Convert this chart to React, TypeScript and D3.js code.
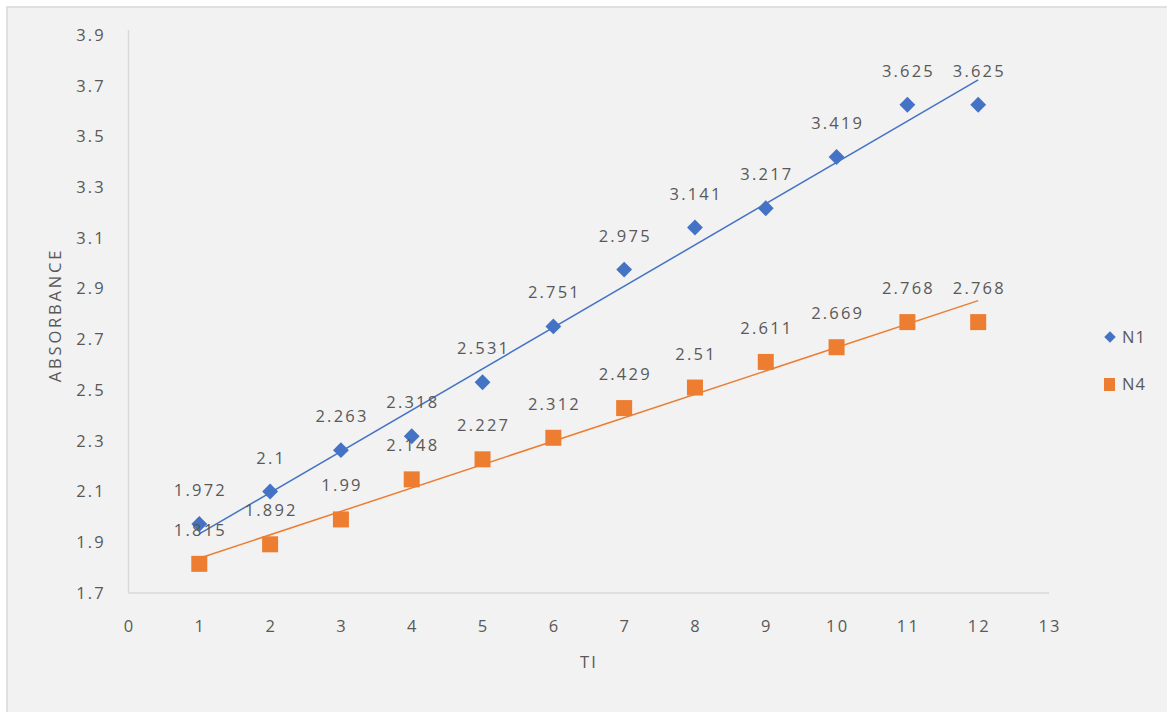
import React from "react";
import * as d3 from "d3";

const tiValues = [1, 2, 3, 4, 5, 6, 7, 8, 9, 10, 11, 12];
const n1Values = [1.972, 2.1, 2.263, 2.318, 2.531, 2.751, 2.975, 3.141, 3.217, 3.419, 3.625, 3.625];
const n4Values = [1.815, 1.892, 1.99, 2.148, 2.227, 2.312, 2.429, 2.51, 2.611, 2.669, 2.768, 2.768];
const xTicks = [0, 1, 2, 3, 4, 5, 6, 7, 8, 9, 10, 11, 12, 13];
const yTicks = [1.7, 1.9, 2.1, 2.3, 2.5, 2.7, 2.9, 3.1, 3.3, 3.5, 3.7, 3.9];
const seriesNames = ["N1", "N4"];

const W = 1167;
const H = 712;
const FONT = "'Open Sans', 'Noto Sans', sans-serif";
const TEXT = "#595959";
const BLUE = "#4472C4";
const ORANGE = "#ED7D31";
const LS = 2.2;

// least-squares linear trend
function linearFit(xs: number[], ys: number[]) {
  const mx = d3.mean(xs) as number;
  const my = d3.mean(ys) as number;
  let sxy = 0;
  let sxx = 0;
  xs.forEach((x, i) => {
    sxy += (x - mx) * (ys[i] - my);
    sxx += (x - mx) * (x - mx);
  });
  const slope = sxy / sxx;
  return (x: number) => my + slope * (x - mx);
}

export default function App() {
  const x = d3.scaleLinear().domain([0, 13]).range([128.5, 1049]);
  const y = d3.scaleLinear().domain([1.7, 3.9]).range([593, 35]);

  const fit1 = linearFit(tiValues, n1Values);
  const fit4 = linearFit(tiValues, n4Values);
  const x0 = tiValues[0];
  const x1 = tiValues[tiValues.length - 1];

  const diamond = d3.symbol().type(d3.symbolDiamond2).size(160)() as string;
  const legendDiamond = d3.symbol().type(d3.symbolDiamond2).size(85)() as string;

  const labelStyle = {
    fontFamily: FONT,
    fontSize: 16.5,
    letterSpacing: LS,
    fill: TEXT,
  } as React.CSSProperties;

  return (
    <svg
      width={W}
      height={H}
      style={{ position: "absolute", left: 0, top: 0, display: "block" }}
    >
      <rect x={0} y={0} width={W} height={H} fill="#ffffff" />
      <rect x={7} y={7} width={W + 10} height={H + 10} fill="#f2f2f2" stroke="#d9d9d9" strokeWidth={1.5} />

      {/* axes */}
      <line x1={x(0)} x2={x(0)} y1={y(3.9) - 5} y2={y(1.7)} stroke="#d9d9d9" strokeWidth={1.5} />
      <line x1={x(0)} x2={x(13)} y1={y(1.7)} y2={y(1.7)} stroke="#d9d9d9" strokeWidth={1.5} />

      {yTicks.map((t) => (
        <text key={"y" + t} x={106} y={y(t)} dy="0.35em" textAnchor="end" style={labelStyle}>
          {t.toFixed(1)}
        </text>
      ))}
      {xTicks.map((t) => (
        <text key={"x" + t} x={x(t) + LS / 2} y={626} dy="0.35em" textAnchor="middle" style={labelStyle}>
          {t}
        </text>
      ))}

      <text
        transform={`translate(55,${315}) rotate(-90)`}
        textAnchor="middle"
        dy="0.35em"
        style={{ ...labelStyle, letterSpacing: 2.8 }}
      >
        ABSORBANCE
      </text>
      <text x={589} y={662} dy="0.35em" textAnchor="middle" style={labelStyle}>
        TI
      </text>

      {/* trend lines */}
      <line x1={x(x0)} y1={y(fit1(x0))} x2={x(x1)} y2={y(fit1(x1))} stroke={BLUE} strokeWidth={1.5} />
      <line x1={x(x0)} y1={y(fit4(x0))} x2={x(x1)} y2={y(fit4(x1))} stroke={ORANGE} strokeWidth={1.5} />

      {/* N4 squares */}
      {tiValues.map((t, i) => (
        <rect key={"n4" + t} x={x(t) - 8} y={y(n4Values[i]) - 8} width={16} height={16} fill={ORANGE} />
      ))}
      {/* N1 diamonds */}
      {tiValues.map((t, i) => (
        <path key={"n1" + t} d={diamond} transform={`translate(${x(t)},${y(n1Values[i])})`} fill={BLUE} />
      ))}

      {/* data labels */}
      {tiValues.map((t, i) => (
        <text key={"l4" + t} x={x(t) + LS / 2} y={y(n4Values[i]) - 28} textAnchor="middle" style={labelStyle}>
          {String(n4Values[i])}
        </text>
      ))}
      {tiValues.map((t, i) => (
        <text key={"l1" + t} x={x(t) + LS / 2} y={y(n1Values[i]) - 28} textAnchor="middle" style={labelStyle}>
          {String(n1Values[i])}
        </text>
      ))}

      {/* legend */}
      <g>
        <path d={legendDiamond} transform="translate(1110,337)" fill={BLUE} />
        <text x={1122} y={337} dy="0.35em" style={{ ...labelStyle, letterSpacing: 1.2 }}>
          {seriesNames[0]}
        </text>
        <rect x={1104} y={378} width={11} height={13} fill={ORANGE} />
        <text x={1122} y={384} dy="0.35em" style={{ ...labelStyle, letterSpacing: 1.2 }}>
          {seriesNames[1]}
        </text>
      </g>
    </svg>
  );
}
